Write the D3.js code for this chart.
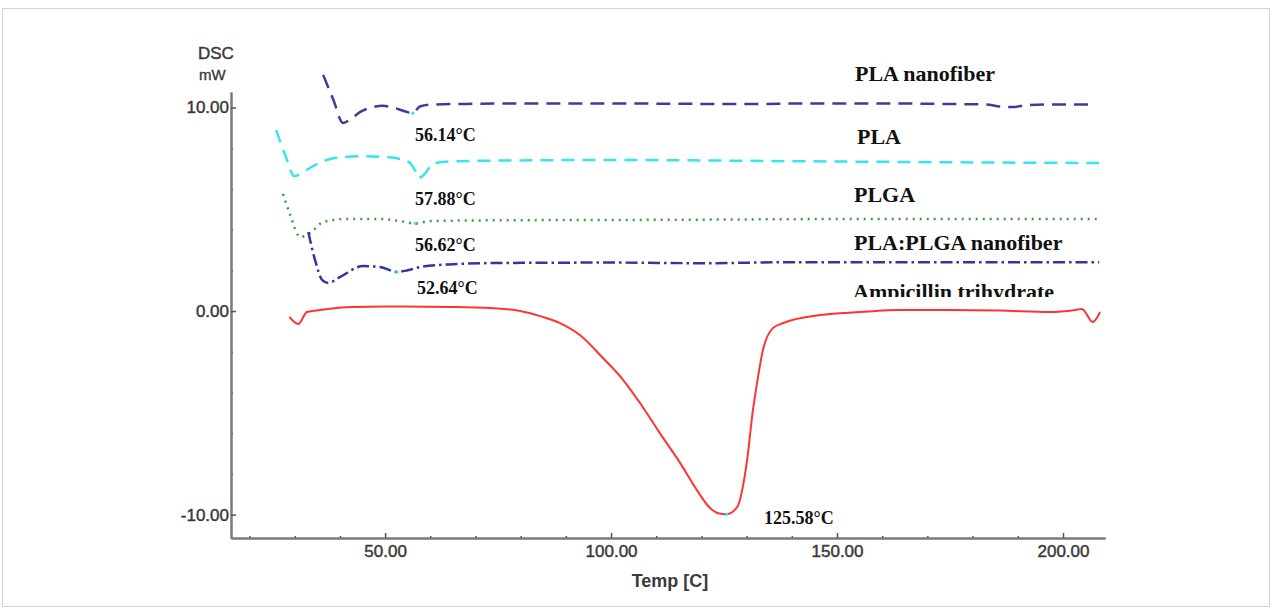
<!DOCTYPE html>
<html>
<head>
<meta charset="utf-8">
<script src="https://cdn.jsdelivr.net/npm/d3@7"></script>
<style>
	body { margin: 0; background: #fff; }
	svg { display: block; }
</style>
</head>
<body>
<svg></svg>
<script>
// [temp C, mW]
var plaNanofiber = [[36.3, 11.6], [38.5, 10.4], [40.7, 9.24], [42.5, 9.45], [44.5, 9.78], [47, 10.0],
	[49.5, 10.08], [52, 9.98], [54.5, 9.8], [56.1, 9.72], [57.7, 10.05], [60, 10.14], [70, 10.18],
	[85, 10.2], [100, 10.2], [115, 10.18], [130, 10.17], [145, 10.2], [160, 10.2], [175, 10.17],
	[183, 10.15], [186, 10.05], [189, 10.02], [192, 10.12], [200, 10.15], [206, 10.15]];

var pla = [[25.9, 8.89], [28, 7.6], [29.9, 6.63], [32, 6.85], [34.5, 7.17], [38.9, 7.52], [44.5, 7.6],
	[50, 7.57], [53.3, 7.47], [55.5, 7.27], [57.9, 6.58], [59, 6.8], [60.6, 7.25], [64.4, 7.35],
	[80, 7.4], [100, 7.42], [120, 7.4], [140, 7.36], [160, 7.33], [180, 7.3], [200, 7.28], [208, 7.27]];

var plga = [[27.4, 5.75], [29, 4.72], [31.2, 3.64], [33.4, 3.83], [36.3, 4.37], [41.2, 4.52],
	[48.9, 4.52], [53.3, 4.42], [56.6, 4.3], [60, 4.42], [70, 4.45], [90, 4.47], [110, 4.48],
	[130, 4.5], [150, 4.52], [170, 4.52], [190, 4.52], [208, 4.52]];

var plaPlgaNanofiber = [[33, 3.88], [34.5, 2.5], [36.1, 1.52], [37.4, 1.38], [40, 1.67], [45.1, 2.21],
	[48.9, 2.16], [52.6, 1.92], [55, 2.0], [57.7, 2.16], [65, 2.3], [75, 2.36], [100, 2.38],
	[120, 2.35], [140, 2.4], [160, 2.4], [180, 2.4], [200, 2.4], [208, 2.4]];

var ampicillin = [[28.8, -0.29], [30.8, -0.64], [32.7, -0.05], [35.6, 0.05], [42.9, 0.2], [53.3, 0.22],
	[64.4, 0.2], [73.2, 0.15], [79.9, 0], [84.3, -0.25], [88.7, -0.59], [93.1, -1.18], [98.2, -2.31],
	[102.7, -3.39], [106.4, -4.52], [110.8, -6.0], [115.3, -7.47], [119.0, -8.8], [121.9, -9.68],
	[123.7, -9.93], [125.58, -9.98], [127.9, -9.63], [130.1, -7.32], [131.4, -4.86], [132.3, -3.54],
	[133.6, -1.92], [135.8, -0.84], [138.1, -0.59], [146.2, -0.2], [155.1, -0.05], [163.9, 0.05],
	[175, 0.05], [186.1, 0.02], [197.1, -0.05], [202.7, 0.05], [204.2, 0.1], [206.6, -0.54], [208.2, -0.05]];

var seriesNames = ["PLA nanofiber", "PLA", "PLGA", "PLA:PLGA nanofiber", "Ampicillin trihydrate"];
var peakTemps = [56.14, 57.88, 56.62, 52.64, 125.58];
var peakValues = [9.72, 6.58, 4.3, 1.92, -9.98];

var xMajor = [50, 100, 150, 200];
var xMinor = [20, 30, 40, 60, 70, 80, 90, 110, 120, 130, 140, 160, 170, 180, 190];
var yMajor = [-10, 0, 10];
var yMinor = [-8, -6, -4, -2, 2, 4, 6, 8];

var draw = function() {

	var W = 1272, H = 610;

	var svg = d3.select("svg")
		.attr("width", W)
		.attr("height", H);

	// light frame round the picture
	svg.append("rect")
		.attr("x", 2.5).attr("y", 8.5)
		.attr("width", 1267).attr("height", 598)
		.attr("fill", "none")
		.attr("stroke", "#d4d4d4");

	var x = d3.scaleLinear().domain([15.9, 209.3]).range([231, 1105]);
	var y = d3.scaleLinear().domain([-11.15, 10.76]).range([538, 92]);

	// plain hyphen for negatives, like the instrument software
	var fmt = function(d) { return d.toFixed(2); };
	var axisColor = "#7a7a7a";
	var textColor = "#3a3a3a";

	// x axis
	var gx = svg.append("g")
		.attr("transform", "translate(0,538)");
	gx.call(d3.axisBottom(x).tickValues(xMinor).tickSize(-2).tickSizeOuter(0).tickFormat(""));
	gx.append("g").call(d3.axisBottom(x).tickValues(xMajor).tickSize(-5).tickSizeOuter(0)
		.tickPadding(7).tickFormat(fmt));

	// y axis
	var gy = svg.append("g")
		.attr("transform", "translate(231,0)");
	gy.call(d3.axisLeft(y).tickValues(yMinor).tickSize(-2).tickSizeOuter(0).tickFormat(""));
	gy.append("g").call(d3.axisLeft(y).tickValues(yMajor).tickSize(-5).tickSizeOuter(0)
		.tickPadding(2).tickFormat(fmt));

	svg.selectAll(".domain").attr("stroke", axisColor).attr("stroke-width", 2);
	svg.selectAll(".tick line").attr("stroke", "#555").attr("stroke-width", 1.5);
	svg.selectAll(".tick text")
		.attr("fill", textColor)
		.attr("stroke", textColor)
		.attr("stroke-width", 0.45)
		.style("font-family", "Liberation Sans, Arial, sans-serif")
		.style("font-size", "17px");

	// axis titles
	svg.append("text").attr("x", 198).attr("y", 59).text("DSC")
		.attr("fill", textColor).attr("stroke", textColor).attr("stroke-width", 0.45)
		.style("font", "17px Liberation Sans, Arial, sans-serif");
	svg.append("text").attr("x", 199).attr("y", 80).text("mW")
		.attr("fill", textColor).attr("stroke", textColor).attr("stroke-width", 0.35)
		.style("font", "15px Liberation Sans, Arial, sans-serif");
	svg.append("text").attr("x", 670).attr("y", 587).text("Temp [C]")
		.attr("text-anchor", "middle")
		.attr("fill", textColor).style("font", "bold 18px Liberation Sans, Arial, sans-serif");

	// curves
	var line = d3.line()
		.x(function(d) { return x(d[0]); })
		.y(function(d) { return y(d[1]); })
		.curve(d3.curveMonotoneX);

	var curves = [
		{ data: plaNanofiber, color: "#3d3d96", width: 2.5, dash: "14,8" },
		{ data: pla, color: "#38e4f0", width: 2.5, dash: "13,8" },
		{ data: plga, color: "#3f9c3f", width: 2.5, dash: "2,5" },
		{ data: plaPlgaNanofiber, color: "#35359a", width: 2.5, dash: "12,4,2.5,4" },
		{ data: ampicillin, color: "#ff3333", width: 2, dash: null }
	];

	svg.selectAll("path.curve")
		.data(curves)
		.enter()
		.append("path")
		.attr("class", "curve")
		.attr("d", function(d) { return line(d.data); })
		.attr("fill", "none")
		.attr("stroke", function(d) { return d.color; })
		.attr("stroke-width", function(d) { return d.width; })
		.attr("stroke-dasharray", function(d) { return d.dash; });

	// peak markers
	svg.selectAll("circle.peak")
		.data(peakTemps)
		.enter()
		.append("circle")
		.attr("class", "peak")
		.attr("cx", function(d) { return x(d); })
		.attr("cy", function(d, i) { return y(peakValues[i]); })
		.attr("r", 1.6)
		.attr("fill", "#40e0f0");

	// peak annotations
	var peakPos = [[415, 141], [415, 205], [415, 251], [417, 294], [764, 524]];
	svg.selectAll("text.peak")
		.data(peakTemps)
		.enter()
		.append("text")
		.attr("class", "peak")
		.attr("x", function(d, i) { return peakPos[i][0]; })
		.attr("y", function(d, i) { return peakPos[i][1]; })
		.text(function(d) { return fmt(d) + "°C"; })
		.attr("fill", "#111")
		.style("font", "bold 18px Liberation Serif, Times New Roman, serif");

	// series names, the last one is cut at the bottom
	svg.append("clipPath").attr("id", "nameclip")
		.append("rect").attr("x", 0).attr("y", 0).attr("width", W).attr("height", 297);

	var namePos = [[855, 81], [857, 144], [854, 202], [854, 250], [853, 299]];
	svg.append("g")
		.attr("clip-path", "url(#nameclip)")
		.selectAll("text")
		.data(seriesNames)
		.enter()
		.append("text")
		.attr("x", function(d, i) { return namePos[i][0]; })
		.attr("y", function(d, i) { return namePos[i][1]; })
		.text(function(d) { return d; })
		.attr("fill", "#111")
		.style("font", "bold 22px Liberation Serif, Times New Roman, serif");
};

draw();
</script>
</body>
</html>
